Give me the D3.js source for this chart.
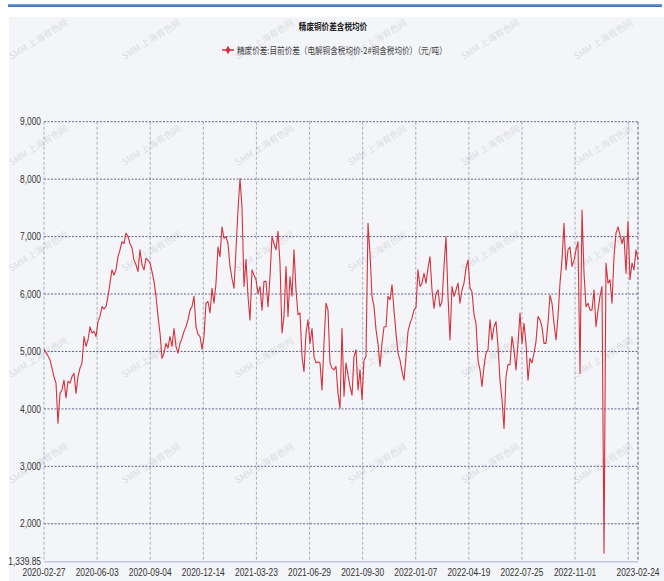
<!DOCTYPE html>
<html>
<head>
    <meta charset="utf-8">
    <title>精废铜价差含税均价</title>
    <style>
        html,
        body {
            margin: 0;
            padding: 0;
            background: #fff;
        }

        svg text {
            font-family: 'Liberation Sans', Arial, sans-serif;
            fill: #333;
        }

        .cjk {
            font-family: 'Noto Sans CJK SC', sans-serif !important;
        }
    </style>
</head>
<body>
    <div id="chart"></div>
    <script src="https://cdnjs.cloudflare.com/ajax/libs/d3/7.8.5/d3.min.js"></script>
    <script>
        const chartTitle = "精废铜价差含税均价";
        const seriesName = "精废价差:目前价差（电解铜含税均价-2#铜含税均价）（元/吨）";
        const watermark = "SMM 上海有色网";

        // category axis: one label every 65 trading days, last label = last day
        const tradingDays = 728;
        const tickEvery = 65;
        const tickLabels = ["2020-02-27", "2020-06-03", "2020-09-04", "2020-12-14", "2021-03-23", "2021-06-29",
            "2021-09-30", "2022-01-07", "2022-04-19", "2022-07-25", "2022-11-01", "", "2023-02-24"];

        const yTicks = [1339.85, 2000, 3000, 4000, 5000, 6000, 7000, 8000, 9000];

        // 元/吨, evenly spaced over the trading days
        const values = [
            5040, 4980, 4920, 4850, 4710, 4560, 4450, 3750, 4270, 4330, 4500, 4190, 4480, 4450, 4560, 4620, 4270, 4560, 4710, 4800,
            5260, 5090, 5200, 5430, 5320, 5350, 5260, 5520, 5610, 5780, 5740, 5780, 5960, 6190, 6420, 6330, 6420, 6650, 6770, 6910,
            6880, 7060, 7000, 6880, 6800, 6590, 6510, 6390, 6770, 6510, 6420, 6620, 6590, 6540, 6390, 6220, 5960, 5610, 5320, 4880,
            4970, 5140, 5060, 5260, 5090, 5400, 5090, 4970, 5140, 5230, 5350, 5430, 5550, 5720, 5780, 5960, 5430, 5300, 5260, 5040,
            5260, 5840, 5870, 5670, 6100, 5840, 6190, 6820, 6650, 7170, 6970, 7000, 6880, 6480, 6270, 6100, 6770, 7460,
            8010, 7500, 6130, 6600, 5960, 5550, 6420, 6330, 6250, 6010, 6130, 5720, 6220, 6220, 5780, 6300, 7000, 6880, 6770, 7090,
            6540, 5320, 5610, 6480, 5610, 6300, 5960, 6770, 6070, 5640, 5670, 4910, 4650, 5320, 5550, 5140, 5400, 4910, 4800, 4820,
            4800, 4330, 5140, 5840, 5720, 4800, 4710, 4680, 4740, 4270, 4010, 5400, 4220, 4800, 4590, 4390, 4240, 4910, 5030, 4330,
            4680, 4160, 4850, 4910, 7230, 6700, 5960, 5780, 5380, 5140, 4740, 5140, 5430, 5430, 5960, 5900, 6160, 5720, 5320, 4970,
            4850, 4650, 4500, 4910, 5350, 5490, 5580, 5720, 5770, 6420, 6130, 6190, 6360, 6190, 6450, 6650, 6070, 5750, 6010, 6070,
            5780, 5870, 6480, 7000, 5960,
            5200, 6130, 5960, 6070, 6190, 5840, 6070, 6190, 6450, 6590, 6100, 6040, 5640, 5490, 4850, 4680, 4390, 4740, 4970, 5030,
            5550, 5200, 5430, 5520, 5090, 4500, 4160, 3660, 4560, 4770, 4770, 5260, 5030, 4680, 5140, 5670, 5140, 5490, 5140, 4500,
            4880, 4800, 4970, 5170, 5610, 5550, 5430, 5140, 5140, 5490, 5980, 5840, 5490, 5200, 5610, 6190, 6590, 7230, 6420, 6770,
            6820, 6480, 6590, 6770, 6910, 4620, 7460, 6360, 5780, 5840, 5720, 5720, 6070, 5430, 5720, 5960, 6130, 1488.72, 6540, 6190,
            6250, 5840, 6650, 7060, 7170, 7030, 6880, 7000, 6360, 7260, 6250, 6540, 6420, 6770, 6590
        ];

        const width = 664, height = 581;
        const plot = { left: 44, right: 638, top: 121.7, bottom: 561.7 };
        const squeeze = 0.8; // the picture's text is narrow

        const svg = d3.select("#chart")
            .append("svg")
            .attr("width", width)
            .attr("height", height);

        // frame
        const grad = svg.append("defs").append("linearGradient")
            .attr("id", "topbar").attr("x1", 0).attr("y1", 0).attr("x2", 0).attr("y2", 1);
        grad.append("stop").attr("offset", "0%").attr("stop-color", "#7ea6dc");
        grad.append("stop").attr("offset", "100%").attr("stop-color", "#3566b4");
        svg.append("rect").attr("x", 8).attr("y", 4).attr("width", 654).attr("height", 3).attr("fill", "url(#topbar)");
        svg.append("rect").attr("x", 9).attr("y", 17).attr("width", width - 9).attr("height", height - 17).attr("fill", "#f4f5f8");

        // watermarks
        const wm = svg.append("g");
        d3.range(5).forEach(r => {
            d3.range(6).forEach(c => {
                wm.append("text")
                    .attr("class", "cjk")
                    .attr("transform", `translate(${40 + c * 113},${42 + r * 106}) rotate(-32)`)
                    .attr("text-anchor", "middle")
                    .attr("font-size", 9)
                    .style("fill", "#dcdee4")
                    .text(watermark);
            });
        });

        const x = d3.scaleLinear().domain([0, tradingDays - 1]).range([plot.left, plot.right]);
        const y = d3.scaleLinear().domain([yTicks[0], 9000]).range([plot.bottom, plot.top]);

        const tickDays = d3.range(0, tradingDays, tickEvery).concat([tradingDays - 1]);

        // vertical grid
        svg.append("g")
            .selectAll("line")
            .data(tickDays)
            .join("line")
            .attr("x1", d => x(d)).attr("x2", d => x(d))
            .attr("y1", plot.top).attr("y2", plot.bottom)
            .attr("stroke", (d, i) => i === tickDays.length - 1 ? "#5a5f86" : "#a9adc0")
            .attr("stroke-width", 1)
            .attr("stroke-dasharray", "3,2");

        // horizontal grid
        svg.append("g")
            .selectAll("line")
            .data(yTicks.slice(1))
            .join("line")
            .attr("x1", plot.left).attr("x2", plot.right)
            .attr("y1", d => y(d)).attr("y2", d => y(d))
            .attr("stroke", "#50557f")
            .attr("stroke-width", 0.9)
            .attr("stroke-dasharray", "2,1.5");

        // x axis line
        svg.append("line")
            .attr("x1", plot.left).attr("x2", plot.right)
            .attr("y1", plot.bottom).attr("y2", plot.bottom)
            .attr("stroke", "#c3c6e2")
            .attr("stroke-width", 1.5);

        // y labels
        svg.append("g")
            .selectAll("text")
            .data(yTicks)
            .join("text")
            .attr("transform", d => `translate(${plot.left - 3},${y(d)}) scale(${squeeze},1)`)
            .attr("text-anchor", "end")
            .attr("dy", "0.35em")
            .attr("font-size", 10.5)
            .text(d => d % 1 ? d3.format(",.2f")(d) : d3.format(",")(d));

        // x labels
        svg.append("g")
            .selectAll("text")
            .data(tickDays)
            .join("text")
            .attr("transform", d => `translate(${x(d)},${plot.bottom + 14}) scale(${squeeze},1)`)
            .attr("text-anchor", "middle")
            .attr("font-size", 10.5)
            .text((d, i) => tickLabels[i]);

        // series
        const line = d3.line()
            .x((d, i) => x(i * (tradingDays - 1) / (values.length - 1)))
            .y(d => y(d));

        svg.append("path")
            .datum(values)
            .attr("d", line)
            .attr("fill", "none")
            .attr("stroke", "#d4313c")
            .attr("stroke-width", 1.1)
            .attr("stroke-linejoin", "round");

        // title + legend
        svg.append("text")
            .attr("class", "cjk")
            .attr("transform", `translate(333,30) scale(${squeeze},1)`)
            .attr("text-anchor", "middle")
            .attr("font-size", 9.5)
            .attr("font-weight", "bold")
            .style("fill", "#222")
            .text(chartTitle);

        svg.append("line")
            .attr("x1", 222).attr("x2", 234)
            .attr("y1", 50).attr("y2", 50)
            .attr("stroke", "#d4313c").attr("stroke-width", 1.5);
        svg.append("path")
            .attr("d", d3.symbol(d3.symbolDiamond, 22)())
            .attr("transform", "translate(228,50)")
            .attr("fill", "#d4313c");

        svg.append("text")
            .attr("class", "cjk")
            .attr("transform", `translate(237,53.5) scale(${squeeze},1)`)
            .attr("font-size", 9.5)
            .style("fill", "#444")
            .text(seriesName);
    </script>
</body>
</html>
